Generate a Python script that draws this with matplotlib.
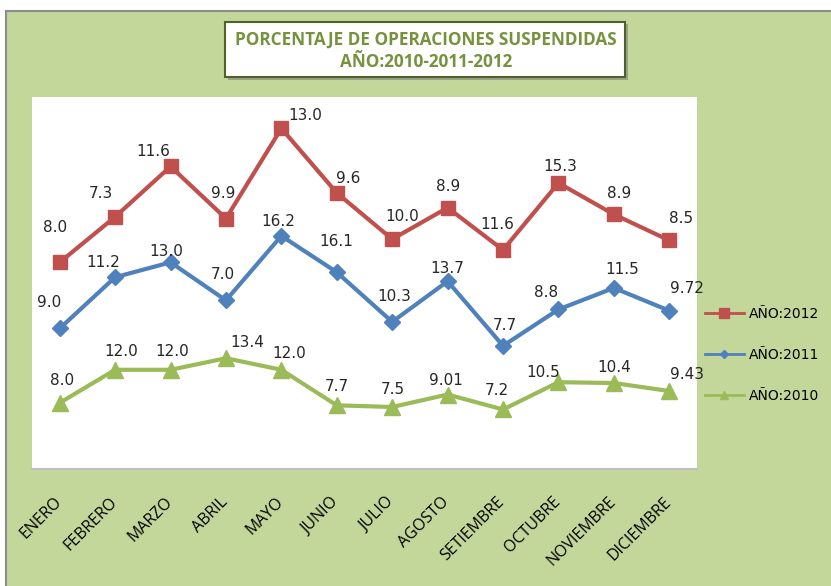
import matplotlib.pyplot as plt
import numpy as np
from matplotlib.patches import Rectangle
from matplotlib.lines import Line2D
from matplotlib.transforms import ScaledTranslation

# Datos (grafico de lineas apiladas, como en Excel)
meses = ["ENERO", "FEBRERO", "MARZO", "ABRIL", "MAYO", "JUNIO", "JULIO",
         "AGOSTO", "SETIEMBRE", "OCTUBRE", "NOVIEMBRE", "DICIEMBRE"]
v2010 = [8.0, 12.0, 12.0, 13.4, 12.0, 7.7, 7.5, 9.01, 7.2, 10.5, 10.4, 9.43]
v2011 = [9.0, 11.2, 13.0, 7.0, 16.2, 16.1, 10.3, 13.7, 7.7, 8.8, 11.5, 9.72]
v2012 = [8.0, 7.3, 11.6, 9.9, 13.0, 9.6, 10.0, 8.9, 11.6, 15.3, 8.9, 8.5]

# desplazamiento de las etiquetas (pixeles)
off2010 = [(2, 22), (6, 18), (2, 18), (21, 16), (8, 16), (0, 19), (1, 17),
           (-2, 14), (-6, 19), (-15, 10), (0, 16), (18, 17)]
off2011 = [(-11, 26), (-12, 15), (-4, 11), (-3, 26), (-3, 14), (-1, 31), (2, 25),
           (0, 13), (2, 20), (-12, 17), (8, 18), (18, 22)]
off2012 = [(-5, 35), (-14, 23), (-17, 15), (-3, 25), (24, 13), (11, 14), (10, 23),
           (1, 21), (-6, 25), (2, 16), (5, 21), (12, 22)]

W, H = 831, 586
fig = plt.figure(figsize=(W / 100, H / 100), dpi=100)
fig.patch.set_facecolor("white")

# fondo verde del grafico
fondo = Rectangle((6 / W, -0.1), 1.2, 1 - 11 / H + 0.1,
                  transform=fig.transFigure, facecolor="#C4D79B",
                  edgecolor="#8C8C8C", lw=1.5, zorder=-10)
fig.add_artist(fondo)

ax = fig.add_axes([32 / W, 1 - 469 / H, (697 - 32) / W, (469 - 97) / H])
ax.set_zorder(5)
ax.set_facecolor("white")

x = np.arange(len(meses))
s2010 = np.array(v2010)
s2011 = s2010 + np.array(v2011)
s2012 = s2011 + np.array(v2012)

series = [
    ("AÑO:2012", s2012, v2012, off2012, "#C0504D", "s", 10.5),
    ("AÑO:2011", s2011, v2011, off2011, "#4F81BD", "D", 8.5),
    ("AÑO:2010", s2010, v2010, off2010, "#9BBB59", "^", 11),
]

for nombre, ys, vals, offs, color, mk, ms in series:
    ax.plot(x, ys, color=color, lw=3, marker=mk, markersize=ms,
            markeredgecolor=color, markerfacecolor=color)
    for i in range(len(x)):
        ax.annotate(str(vals[i]), (x[i], ys[i]), xytext=offs[i],
                    textcoords="offset pixels", ha="center", va="center",
                    fontsize=11, color="#262626", family="DejaVu Sans")

ax.set_xlim(-0.5, len(meses) - 0.5)
ax.set_ylim(0, 45)
ax.set_yticks([])
ax.set_xticks(x)
ax.set_xticklabels(meses, rotation=45, ha="right", va="top",
                   fontsize=11.5, family="Open Sans", color="black")
ax.tick_params(axis="x", length=0, pad=18)
for lbl in ax.get_xticklabels():
    lbl.set_transform(lbl.get_transform() + ScaledTranslation(5 / 100, 0, fig.dpi_scale_trans))
for s in ["top", "left", "right"]:
    ax.spines[s].set_visible(False)
ax.spines["bottom"].set_color("#BFBFBF")
ax.spines["bottom"].set_linewidth(1.5)

# leyenda
handles = [
    Line2D([], [], color="#C0504D", lw=2, marker="s", markersize=7),
    Line2D([], [], color="#4F81BD", lw=2, marker="D", markersize=4.5),
    Line2D([], [], color="#9BBB59", lw=2, marker="^", markersize=6),
]
leg = fig.legend(handles, ["AÑO:2012", "AÑO:2011", "AÑO:2010"], loc="center left",
                 bbox_to_anchor=(705 / W, 1 - 355 / H), frameon=False,
                 prop={"family": "DejaVu Sans", "size": 10}, labelspacing=1.95,
                 handlelength=2.8, handletextpad=0.35, borderpad=0, borderaxespad=0)
leg.set_zorder(6)

# titulo en caja
sombra = Rectangle((228 / W, 1 - 80 / H), 400 / W, 56 / H,
                   transform=fig.transFigure, facecolor="#7F7F7F",
                   edgecolor="none", zorder=7, alpha=0.6)
caja = Rectangle((225 / W, 1 - 77 / H), 400 / W, 55 / H,
                 transform=fig.transFigure, facecolor="white",
                 edgecolor="#4F6228", lw=1.5, zorder=8)
fig.add_artist(sombra)
fig.add_artist(caja)
fig.text(426 / W, 1 - 40 / H, "PORCENTAJE DE OPERACIONES SUSPENDIDAS",
         ha="center", va="center", fontsize=12.3, fontweight="bold",
         family="Open Sans", color="#76923C", zorder=9)
fig.text(426 / W, 1 - 62 / H, "AÑO:2010-2011-2012",
         ha="center", va="center", fontsize=12.3, fontweight="bold",
         family="Open Sans", color="#76923C", zorder=9)

fig.savefig("out.png", dpi=100)
